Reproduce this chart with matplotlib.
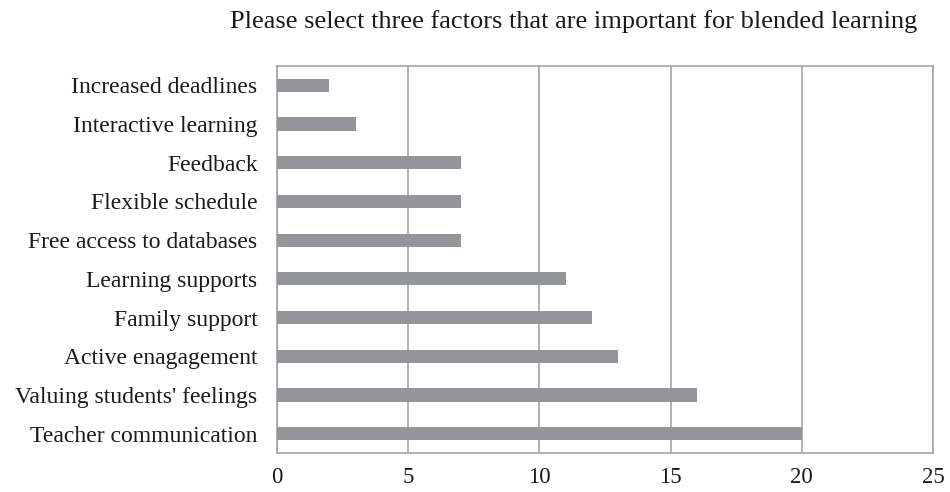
import matplotlib
matplotlib.use('Agg')
from matplotlib import pyplot as plt

# data
factors = ['Teacher communication', "Valuing students' feelings", 'Active enagagement',
           'Family support', 'Learning supports', 'Free access to databases',
           'Flexible schedule', 'Feedback', 'Interactive learning', 'Increased deadlines']
counts = [20, 16, 13, 12, 11, 7, 7, 7, 3, 2]
xticks = [0, 5, 10, 15, 20, 25]

plt.rcParams['font.family'] = ['Liberation Serif', 'DejaVu Serif']

fig = plt.figure(figsize=(9.5, 4.92), dpi=100)
ax = fig.add_axes([0.2916, 0.0793, 0.6905, 0.7867])

ax.barh(range(len(factors)), counts, height=0.34, color='#939598', zorder=3)
ax.set_yticks(range(len(factors)))
ax.set_yticklabels(factors, fontsize=17, color='#1a1a1a')
ax.set_ylim(-0.5, len(factors) - 0.5)
ax.set_xlim(0, 25)
ax.set_xticks(xticks)
ax.set_xticklabels([str(t) for t in xticks], fontsize=16.5, color='#1a1a1a')
ax.tick_params(length=0)
ax.tick_params(axis='x', pad=10)
ax.tick_params(axis='y', pad=14)
ax.grid(axis='x', color='#a6a6a6', linewidth=1.2, zorder=0)
for s in ax.spines.values():
    s.set_color('#a6a6a6')
    s.set_linewidth(1.2)

fig.text(0.604, 0.957, 'Please select three factors that are important for blended learning',
         ha='center', va='center', fontsize=19, color='#1a1a1a')

fig.savefig('out.png', dpi=100)
